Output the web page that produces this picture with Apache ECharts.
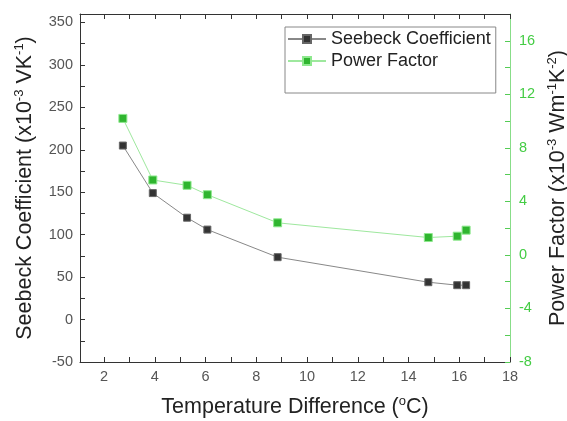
<!DOCTYPE html>
<html><head><meta charset="utf-8">
<script src="https://cdn.jsdelivr.net/npm/echarts@6/dist/echarts.min.js"></script>
<style>html,body{margin:0;padding:0;background:#fff}#c{width:567px;height:421px}</style>
</head><body><div id="c"></div>
<script>
// ---- data ----
const temperatureDiff = [2.74, 3.92, 5.27, 6.07, 8.84, 14.78, 15.92, 16.27];
const seebeck = [205, 149, 120, 106, 73.5, 44, 40.5, 40.5];
const powerFactor = [10.2, 5.6, 5.2, 4.5, 2.4, 1.3, 1.4, 1.85];
const xMajorTicks = [2, 4, 6, 8, 10, 12, 14, 16, 18];
const xAllTicks = [2, 3, 4, 5, 6, 7, 8, 9, 10, 11, 12, 13, 14, 15, 16, 17, 18];
const yLeftTicks = [-50, 0, 50, 100, 150, 200, 250, 300, 350];
const yLeftAllTicks = [-50, -25, 0, 25, 50, 75, 100, 125, 150, 175, 200, 225, 250, 275, 300, 325, 350];
const yRightTicks = [-8, -4, 0, 4, 8, 12, 16];
const yRightAllTicks = [-8, -6, -4, -2, 0, 2, 4, 6, 8, 10, 12, 14, 16];

const FONT = 'Liberation Sans, Arial, sans-serif';
const X_MIN = 1.05, X_MAX = 18, YL_MIN = -50, YL_MAX = 360, YR_MIN = -8, YR_MAX = 18;

function pairs(xs, ys) { return xs.map((x, i) => [x, ys[i]]); }

const sup = { fontSize: 13, fontFamily: FONT, color: '#222', verticalAlign: 'top', lineHeight: 24 };
const nameStyle = { fontSize: 21.5, fontFamily: FONT, color: '#222', lineHeight: 24, rich: { sup: sup } };

const chart = echarts.init(document.getElementById('c'), null, { renderer: 'canvas' });
chart.setOption({
  animation: false,
  backgroundColor: '#fff',
  grid: { left: 80, right: 57, top: 14, bottom: 59,
          outerBounds: { left: -300, top: -300, right: -300, bottom: -300 } },
  legend: {
    left: 285, top: 27, orient: 'vertical',
    padding: [3, 5, 23, 2], itemGap: 4, itemWidth: 38, itemHeight: 10,
    borderColor: '#888', borderWidth: 1, backgroundColor: '#fff',
    textStyle: { fontSize: 18, fontFamily: FONT, color: '#222' },
    data: ['Seebeck Coefficient', 'Power Factor']
  },
  xAxis: [
    { type: 'value', position: 'bottom', min: X_MIN, max: X_MAX,
      name: 'Temperature Difference ({sup|o}C)', nameLocation: 'middle', nameGap: 33, nameTextStyle: nameStyle,
      axisLine: { show: true, onZero: false, lineStyle: { color: '#333', width: 1 } },
      axisTick: { show: true, inside: true, length: 5, customValues: xAllTicks, lineStyle: { color: '#333' } },
      axisLabel: { customValues: xMajorTicks, margin: 7, fontSize: 14.5, fontFamily: FONT, color: '#555' },
      splitLine: { show: false } },
    { type: 'value', position: 'top', min: X_MIN, max: X_MAX,
      axisLine: { show: true, onZero: false, lineStyle: { color: '#333', width: 1 } },
      axisTick: { show: true, inside: true, length: 5, customValues: xAllTicks, lineStyle: { color: '#333' } },
      axisLabel: { show: false }, splitLine: { show: false } }
  ],
  yAxis: [
    { type: 'value', position: 'left', min: YL_MIN, max: YL_MAX,
      name: 'Seebeck Coefficient (x10{sup|-3} VK{sup|-1})', nameLocation: 'middle', nameRotate: 90, nameGap: 43, nameTextStyle: nameStyle,
      axisLine: { show: true, onZero: false, lineStyle: { color: '#333', width: 1 } },
      axisTick: { show: true, inside: true, length: 5, customValues: yLeftAllTicks, lineStyle: { color: '#333' } },
      axisLabel: { customValues: yLeftTicks, margin: 7, fontSize: 14.5, fontFamily: FONT, color: '#555' },
      splitLine: { show: false } },
    { type: 'value', position: 'right', min: YR_MIN, max: YR_MAX,
      name: 'Power Factor (x10{sup|-3} Wm{sup|-1}K{sup|-2})', nameLocation: 'middle', nameRotate: 90, nameGap: 28, nameTextStyle: nameStyle,
      axisLine: { show: true, onZero: false, lineStyle: { color: '#8d8', width: 1 } },
      axisTick: { show: true, inside: true, length: 5, customValues: yRightAllTicks, lineStyle: { color: '#5c5' } },
      axisLabel: { customValues: yRightTicks, margin: 9, fontSize: 14.5, fontFamily: FONT, color: '#4c4' },
      splitLine: { show: false } }
  ],
  series: [
    { name: 'Seebeck Coefficient', type: 'line', xAxisIndex: 0, yAxisIndex: 0,
      data: pairs(temperatureDiff, seebeck),
      symbol: 'rect', symbolSize: 7,
      itemStyle: { color: '#333', borderColor: '#666', borderWidth: 1 },
      lineStyle: { color: '#888', width: 1 } },
    { name: 'Power Factor', type: 'line', xAxisIndex: 0, yAxisIndex: 1,
      data: pairs(temperatureDiff, powerFactor),
      symbol: 'rect', symbolSize: 8,
      itemStyle: { color: '#2fb52f', borderColor: '#8ee88e', borderWidth: 1 },
      lineStyle: { color: '#9ee89e', width: 1 } }
  ]
});
</script></body></html>
